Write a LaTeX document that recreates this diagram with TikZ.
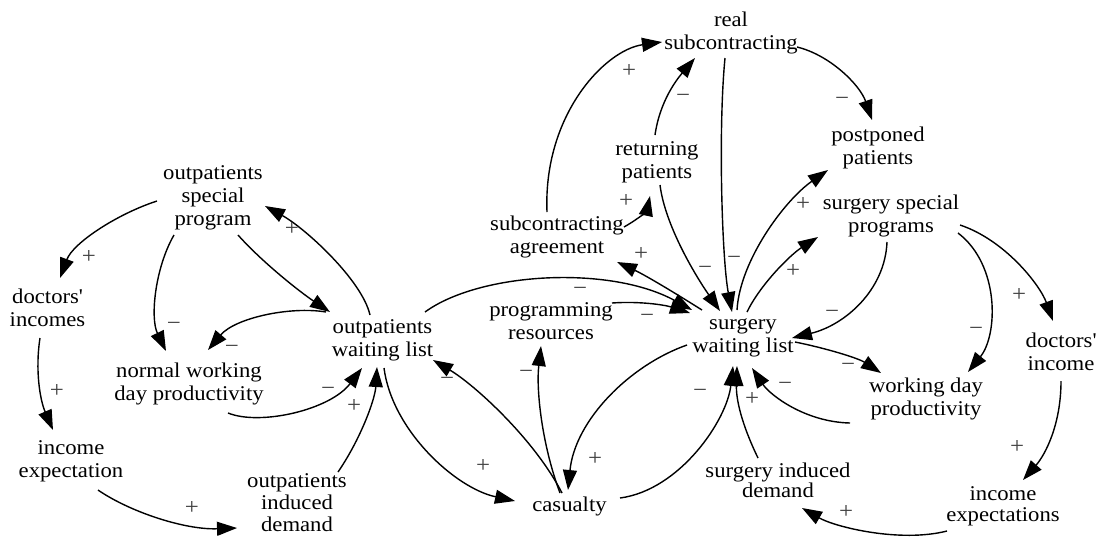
\documentclass[tikz,border=0pt]{standalone}
\usepackage{fontspec}
\setmainfont{Liberation Serif}[FakeStretch=1.08]
\usetikzlibrary{arrows.meta,calc}

% #1 source, #2 start offset, #3 first control offset (from source),
% #4 target, #5 second control offset (from target), #6 tip offset,
% #7 polarity node name, #8 polarity position, #9 polarity sign
\newcommand\causallink[9]{%
  \draw[link] ($(#1)+(#2)$) .. controls ($(#1)+(#3)$) and ($(#4)+(#5)$) .. ($(#4)+(#6)$);
  \node[pol] (#7) at (#8) {#9};}

\begin{document}
\begin{tikzpicture}[x=1pt,y=-1pt,
  var/.style={inner sep=0pt, align=center, font=\fontsize{21}{23}\selectfont},
  link/.style={line width=1.4pt, -{Triangle[length=20pt,width=14pt]}},
  pol/.style={anchor=base, yshift=-5.5pt, inner sep=0pt, text=black!75,
              font=\fontsize{23}{23}\selectfont}]
\useasboundingbox (0,0) rectangle (1099,539);

% variables
\node[var] (RS)  at (731,33)     {real\\subcontracting};
\node[var] (RP)  at (657,162)    {returning\\patients};
\node[var] (SA)  at (557,237)    {subcontracting\\agreement};
\node[var] (PP)  at (878,148)    {postponed\\patients};
\node[var] (SSP) at (891,216)    {surgery special\\programs};
\node[var] (SWL) at (743,338)    {surgery\\waiting list};
\node[var] (PR)  at (551,321)    {programming\\resources};
\node[var] (WDP) at (926,399)    {working day\\productivity};
\node[var] (DI)  at (1061,352)   {doctors\textquotesingle\\income};
\node[var, font=\fontsize{21}{21}\selectfont] (IE) at (1003,506) {income\\expectations};
\node[var, font=\fontsize{21}{19}\selectfont] (SID) at (778,480) {surgery induced\\demand};
\node[var] (CAS) at (569.5,506)  {casualty};
\node[var] (OWL) at (382.5,340)  {outpatients\\waiting list};
\node[var, font=\fontsize{21}{22}\selectfont] (OID) at (297,503) {outpatients\\induced\\demand};
\node[var] (NWD) at (189,383.5)  {normal working\\day productivity};
\node[var] (IEL) at (71,461)     {income\\expectation};
\node[var] (DIL) at (47.5,307.5) {doctors\textquotesingle\\incomes};
\node[var] (OSP) at (213,197.5)  {outpatients\\special\\program};

% outpatient side
\causallink{OSP}{-56,3.5}{-96,16.5}{DIL}{25.5,-64.5}{12.5,-29.5}{p1}{89,258}{+}
\causallink{OSP}{-39,37.5}{-58,70.5}{NWD}{-39,-65.5}{-23,-32.5}{p2}{174,325}{−}
\draw[link] ($(OSP)+(25,37.5)$) .. controls ($(OSP)+(49,64.5)$) and ($(OWL)+(-82.5,-48)$) .. ($(OWL)+(-52.5,-28)$);
\causallink{OWL}{-12.5,-25}{-20.5,-60}{OSP}{92,30.5}{52,8.5}{p4}{292,230}{+}
\causallink{OWL}{-56.5,-28}{-92.5,-34}{NWD}{46,-65.5}{19,-33.5}{p5}{232,348}{−}
\causallink{NWD}{39,29.5}{71,42.5}{OWL}{-52.5,70}{-20.5,28}{p6}{328,390}{−}
\causallink{OID}{41,-31}{63,-63}{OWL}{-7.5,60}{-5.5,27}{p7}{354,407}{+}
\causallink{OWL}{1.5,28}{9.5,90}{CAS}{-114.5,-18}{-54.5,-5}{p8}{483,467}{+}
\causallink{CAS}{-7.5,-13}{-34.5,-66}{OWL}{92.5,45}{50.5,20}{p9}{447,380}{−}
\causallink{CAS}{-9.5,-13}{-27.5,-61}{PR}{-15,69}{-10,25}{p10}{526,373}{−}
\causallink{DIL}{-7.5,30.5}{-12.5,62.5}{IEL}{-31,-61}{-18,-31}{p32}{57,392}{+}
\causallink{IEL}{27,29}{59,51}{OID}{-112,27}{-60,25}{p33}{192,509}{+}

% links between the two waiting lists
\causallink{OWL}{42.5,-28}{97.5,-68}{SWL}{-133,-73}{-51,-28}{p30}{580,290}{−}
\causallink{PR}{61,-18}{89,-20}{SWL}{-78,-33}{-53,-25}{p31}{647,317}{−}
\causallink{SWL}{-56,7}{-113,27}{CAS}{5.5,-86}{-1.5,-16}{p11}{595,460}{+}
\causallink{CAS}{50.5,-8}{110.5,-16}{SWL}{-16,82}{-10,28}{p12}{700,392}{−}

% surgery side
\causallink{SID}{-20,-22}{-36,-55}{SWL}{-7,62}{-6,28}{p13}{752,400}{+}
\causallink{WDP}{-76,24}{-121,23}{SWL}{27,57}{9,30}{p14}{785,385}{−}
\causallink{SWL}{52,4}{82,10}{WDP}{-68,-41}{-45,-26}{p15}{848,366}{−}
\causallink{SSP}{-4,26}{-6,74}{SWL}{102,-13}{49,0}{p16}{832,313}{−}
\causallink{SSP}{67,17}{109,49}{WDP}{72,-64}{42,-27}{p17}{976,330}{−}
\causallink{SSP}{69,9}{114,24}{DI}{-21,-67}{-8,-31}{p18}{1019,296}{+}
\causallink{DI}{0,29}{0,73}{IE}{42,-51}{20,-26}{p19}{1017,448}{+}
\causallink{IE}{-56,25}{-103,37}{SID}{57,47}{24,28}{p20}{846,513}{+}
\causallink{SA}{67,-10}{83,-19}{RP}{-10,48}{-7,34}{p21}{626,202}{+}
\causallink{SA}{-10,-25}{-14,-122}{RS}{-126,17}{-69,9}{p22}{629,72}{+}
\causallink{RP}{-2,-27}{3,-62}{RS}{-53,45}{-36,25}{p23}{683,97}{−}
\causallink{RS}{66,14}{99,22}{PP}{-18,-63}{-6,-28}{p24}{842,100}{−}
\causallink{RS}{-6,25}{-13,97}{SWL}{-21,-78}{-11,-26}{p25}{734,259}{−}
\causallink{RP}{3,23}{8,63}{SWL}{-48,-63}{-23,-27}{p26}{705,269}{−}
\causallink{SWL}{-6,-28}{-3,-78}{PP}{-93,52}{-50,22}{p27}{803,205}{+}
\causallink{SWL}{4,-26}{17,-53}{SSP}{-101,39}{-73,21}{p28}{793,272}{+}
\causallink{SWL}{-41,-28}{-68,-45}{SA}{88,38}{60,25}{p29}{641,255}{+}
\end{tikzpicture}
\end{document}
